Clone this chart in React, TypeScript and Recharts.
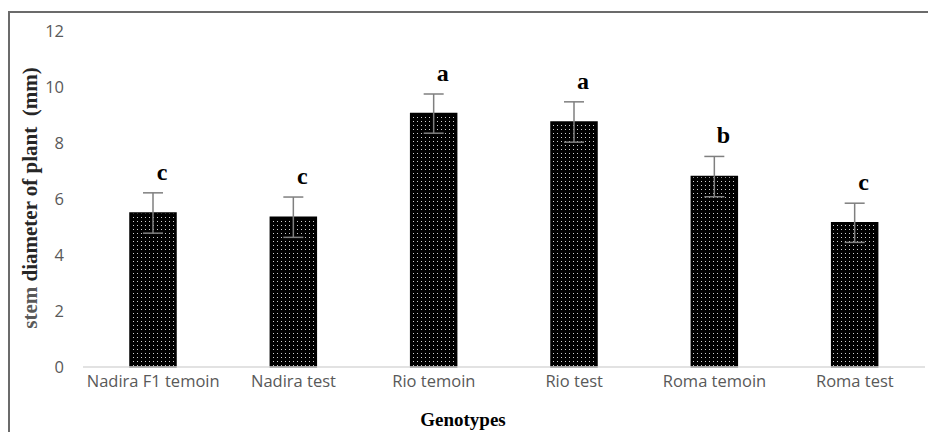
import React from "react";
import { BarChart, Bar, XAxis, YAxis, ErrorBar, LabelList } from "recharts";

const categories = ["Nadira F1 temoin", "Nadira test", "Rio temoin", "Rio test", "Roma temoin", "Roma test"];
const means = [5.5, 5.35, 9.05, 8.75, 6.8, 5.15];
const errors = [0.72, 0.72, 0.7, 0.72, 0.72, 0.7];
const letters = ["c", "c", "a", "a", "b", "c"];
const yTicks = [0, 2, 4, 6, 8, 10, 12];

const data = categories.map((name, i) => ({ name, value: means[i], err: errors[i], letter: letters[i] }));

const SERIF = "'Liberation Serif', 'Times New Roman', serif";

const LetterLabel = (props: any) => {
  const { x, y, width, height, value, index } = props;
  const v = means[index];
  const ppu = v ? height / v : 0;
  const top = y - errors[index] * ppu;
  return (
    <text
      x={x + width / 2 + 9}
      y={top - 13}
      textAnchor="middle"
      fontFamily={SERIF}
      fontWeight="bold"
      fontSize={24}
      fill="#000"
    >
      {value}
    </text>
  );
};

const YLabel = () => {
  const cx = 30;
  const cy = 198;
  return (
    <text
      x={cx}
      y={cy}
      transform={`rotate(-90, ${cx}, ${cy})`}
      textAnchor="middle"
      dominantBaseline="central"
      fontFamily={SERIF}
      fontWeight="bold"
      fontSize={21}
      fill="#262626"
    >
      <tspan fill="#595959">stem</tspan>
      <tspan xmlSpace="preserve"> diameter of plant  (mm)</tspan>
    </text>
  );
};

const XLabel = () => (
  <text
    x={463}
    y={419}
    textAnchor="middle"
    dominantBaseline="central"
    fontFamily={SERIF}
    fontWeight="bold"
    fontSize={19}
    fill="#000"
  >
    Genotypes
  </text>
);

export default function App() {
  return (
    <div
      style={{
        position: "relative",
        width: 928,
        height: 432,
        overflow: "hidden",
        background: "#fff",
      }}
    >
      <style>{`html, body { margin: 0; padding: 0; overflow: hidden; }`}</style>
      <div style={{ position: "absolute", left: 8, top: 11, width: 920, height: 2, background: "#6b6b6b" }} />
      <div style={{ position: "absolute", left: 8, top: 11, width: 2, height: 421, background: "#6b6b6b" }} />
      <div style={{ position: "absolute", left: 0, top: 0 }}>
        <BarChart
          width={928}
          height={432}
          data={data}
          margin={{ top: 31, right: 3, left: 0, bottom: 0 }}
          barSize={46}
        >
          <defs>
            <pattern id="dots" width="4" height="4" patternUnits="userSpaceOnUse">
              <rect width="4" height="4" fill="#000" />
              <rect x="1" y="1" width="1" height="1" fill="#cfcfcf" />
            </pattern>
          </defs>
          <XAxis
            dataKey="name"
            height={65}
            tickSize={0}
            tickMargin={8}
            axisLine={{ stroke: "#d9d9d9", strokeWidth: 1.5 }}
            tickLine={false}
            tick={{ fill: "#595959", fontSize: 16.5, fontFamily: "'Open Sans', sans-serif" }}
            interval={0}
            label={<XLabel />}
          />
          <YAxis
            width={83}
            domain={[0, 12]}
            ticks={yTicks}
            axisLine={false}
            tickLine={false}
            tickSize={0}
            tickMargin={19}
            tick={{ fill: "#595959", fontSize: 16.5, fontFamily: "'Open Sans', sans-serif" }}
            label={<YLabel />}
          />
          <Bar dataKey="value" fill="url(#dots)" stroke="#000" strokeWidth={1.5} isAnimationActive={false}>
            <ErrorBar dataKey="err" width={10} stroke="#7f7f7f" strokeWidth={1.5} direction="y" />
            <LabelList dataKey="letter" content={<LetterLabel />} />
          </Bar>
        </BarChart>
      </div>
    </div>
  );
}
